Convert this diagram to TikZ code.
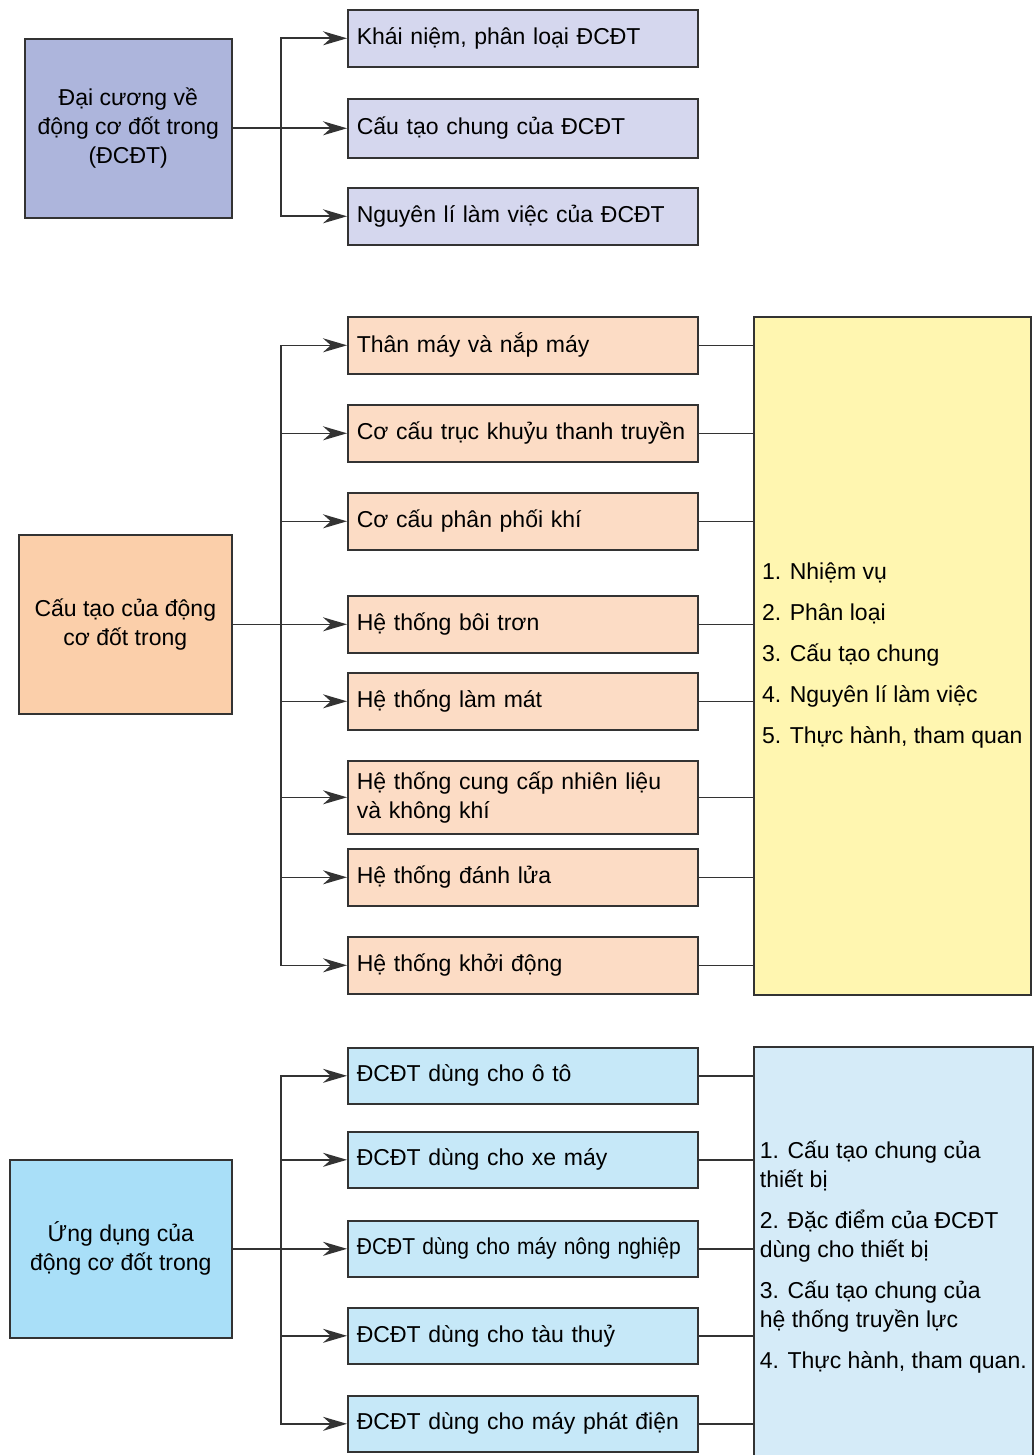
\documentclass[tikz,border=0pt]{standalone}
\usepackage{fontspec}
\setmainfont{Liberation Sans}
\usetikzlibrary{arrows.meta}

\definecolor{linec}{HTML}{333333}
\definecolor{introc}{HTML}{ADB5DC}
\definecolor{introl}{HTML}{D5D7EE}
\definecolor{structc}{HTML}{FBCFAA}
\definecolor{structl}{HTML}{FCDCC5}
\definecolor{notey}{HTML}{FFF6B0}
\definecolor{appc}{HTML}{A9DFF8}
\definecolor{appl}{HTML}{C6E8F8}
\definecolor{noteb}{HTML}{D5EBF8}

\begin{document}
\begin{tikzpicture}[x=1pt, y=-1pt,
    font=\fontsize{23}{29}\selectfont,
    box/.style = {draw=linec, line width=1.6pt, inner sep=0pt, anchor=north west, align=center},
    sub/.style = {draw=linec, line width=1.6pt, anchor=north west, text width=332pt,
                  inner xsep=9pt, inner ysep=0pt, minimum height=57pt, align=left},
    note/.style = {draw=linec, line width=1.6pt, anchor=north west, inner sep=0pt, align=left},
    arr/.style = {draw=linec, line width=1.6pt, -{Stealth[length=24pt, width=14pt]}},
    link/.style = {draw=linec, line width=1.6pt}]
        \useasboundingbox (0,0) rectangle (1035,1455);

        \node[box, fill=introc, minimum width=207pt, minimum height=179pt] (intro) at (24,38) {Đại cương về\\động cơ đốt trong\\(ĐCĐT)};
        \node[sub, fill=introl] (i1) at (347,9) {Khái niệm, phân loại ĐCĐT};
        \node[sub, fill=introl, minimum height=59pt] (i2) at (347,98) {Cấu tạo chung của ĐCĐT};
        \node[sub, fill=introl] (i3) at (347,187) {Nguyên lí làm việc của ĐCĐT};
        \coordinate (bus1) at (281,0);

        \draw[arr] (intro.east) -- (i2.west);
        \draw[arr] (bus1 |- i3.west) |- (i1.west);
        \draw[arr] (bus1 |- i1.west) |- (i3.west);

        \node[box, fill=structc, minimum width=213pt, minimum height=179pt] (struct) at (18,534) {Cấu tạo của động\\cơ đốt trong};
        \node[sub, fill=structl] (h1) at (347,316) {Thân máy và nắp máy};
        \node[sub, fill=structl] (h2) at (347,404) {\mbox{Cơ cấu trục khuỷu thanh truyền}};
        \node[sub, fill=structl] (h3) at (347,492) {Cơ cấu phân phối khí};
        \node[sub, fill=structl] (h4) at (347,595) {Hệ thống bôi trơn};
        \node[sub, fill=structl] (h5) at (347,672) {Hệ thống làm mát};
        \node[sub, fill=structl, minimum height=73pt] (h6) at (347,760) {Hệ thống cung cấp nhiên liệu\\và không khí};
        \node[sub, fill=structl] (h7) at (347,848) {Hệ thống đánh lửa};
        \node[sub, fill=structl] (h8) at (347,936) {Hệ thống khởi động};
        \node[note, fill=notey, minimum width=277pt, minimum height=678pt] (note2) at (753,316)
            {1. Nhiệm vụ\\[12pt]2. Phân loại\\[12pt]3. Cấu tạo chung\\[12pt]4. Nguyên lí làm việc\\[12pt]5. Thực hành, tham quan};
        \coordinate (bus2) at (281,0);

        \draw[arr] (struct.east) -- (h4.west);
        \draw[arr] (bus2 |- h8.west) |- (h1.west);
        \draw[arr] (bus2 |- h1.west) |- (h8.west);
        \draw[arr] (bus2 |- h2.west) -- (h2.west);
        \draw[arr] (bus2 |- h3.west) -- (h3.west);
        \draw[arr] (bus2 |- h5.west) -- (h5.west);
        \draw[arr] (bus2 |- h6.west) -- (h6.west);
        \draw[arr] (bus2 |- h7.west) -- (h7.west);

        \draw[link] (h1.east) -- (h1.east -| note2.west);
        \draw[link] (h2.east) -- (h2.east -| note2.west);
        \draw[link] (h3.east) -- (h3.east -| note2.west);
        \draw[link] (h4.east) -- (h4.east -| note2.west);
        \draw[link] (h5.east) -- (h5.east -| note2.west);
        \draw[link] (h6.east) -- (h6.east -| note2.west);
        \draw[link] (h7.east) -- (h7.east -| note2.west);
        \draw[link] (h8.east) -- (h8.east -| note2.west);

        \node[box, fill=appc, minimum width=222pt, minimum height=178pt] (app) at (9,1159) {Ứng dụng của\\động cơ đốt trong};
        \node[sub, fill=appl, minimum height=56pt] (d1) at (347,1047) {ĐCĐT dùng cho ô tô};
        \node[sub, fill=appl, minimum height=56pt] (d2) at (347,1131) {ĐCĐT dùng cho xe máy};
        \node[sub, fill=appl, minimum height=56pt] (d3) at (347,1220) {\scalebox{0.915}[1]{ĐCĐT dùng cho máy nông nghiệp}};
        \node[sub, fill=appl, minimum height=56pt] (d4) at (347,1307) {ĐCĐT dùng cho tàu thuỷ};
        \node[sub, fill=appl, minimum height=56pt] (d5) at (347,1395) {ĐCĐT dùng cho máy phát điện};
        \node[note, fill=noteb, minimum width=279pt, minimum height=420pt] (note3) at (753,1046)
            {1. Cấu tạo chung của\\thiết bị\\[12pt]2. Đặc điểm của ĐCĐT\\dùng cho thiết bị\\[12pt]3. Cấu tạo chung của\\hệ thống truyền lực\\[12pt]4. Thực hành, tham quan.};
        \coordinate (bus3) at (281,0);

        \draw[arr] (app.east) -- (d3.west);
        \draw[arr] (bus3 |- d5.west) |- (d1.west);
        \draw[arr] (bus3 |- d1.west) |- (d5.west);
        \draw[arr] (bus3 |- d2.west) -- (d2.west);
        \draw[arr] (bus3 |- d4.west) -- (d4.west);

        \draw[link] (d1.east) -- (d1.east -| note3.west);
        \draw[link] (d2.east) -- (d2.east -| note3.west);
        \draw[link] (d3.east) -- (d3.east -| note3.west);
        \draw[link] (d4.east) -- (d4.east -| note3.west);
        \draw[link] (d5.east) -- (d5.east -| note3.west);
\end{tikzpicture}
\end{document}
